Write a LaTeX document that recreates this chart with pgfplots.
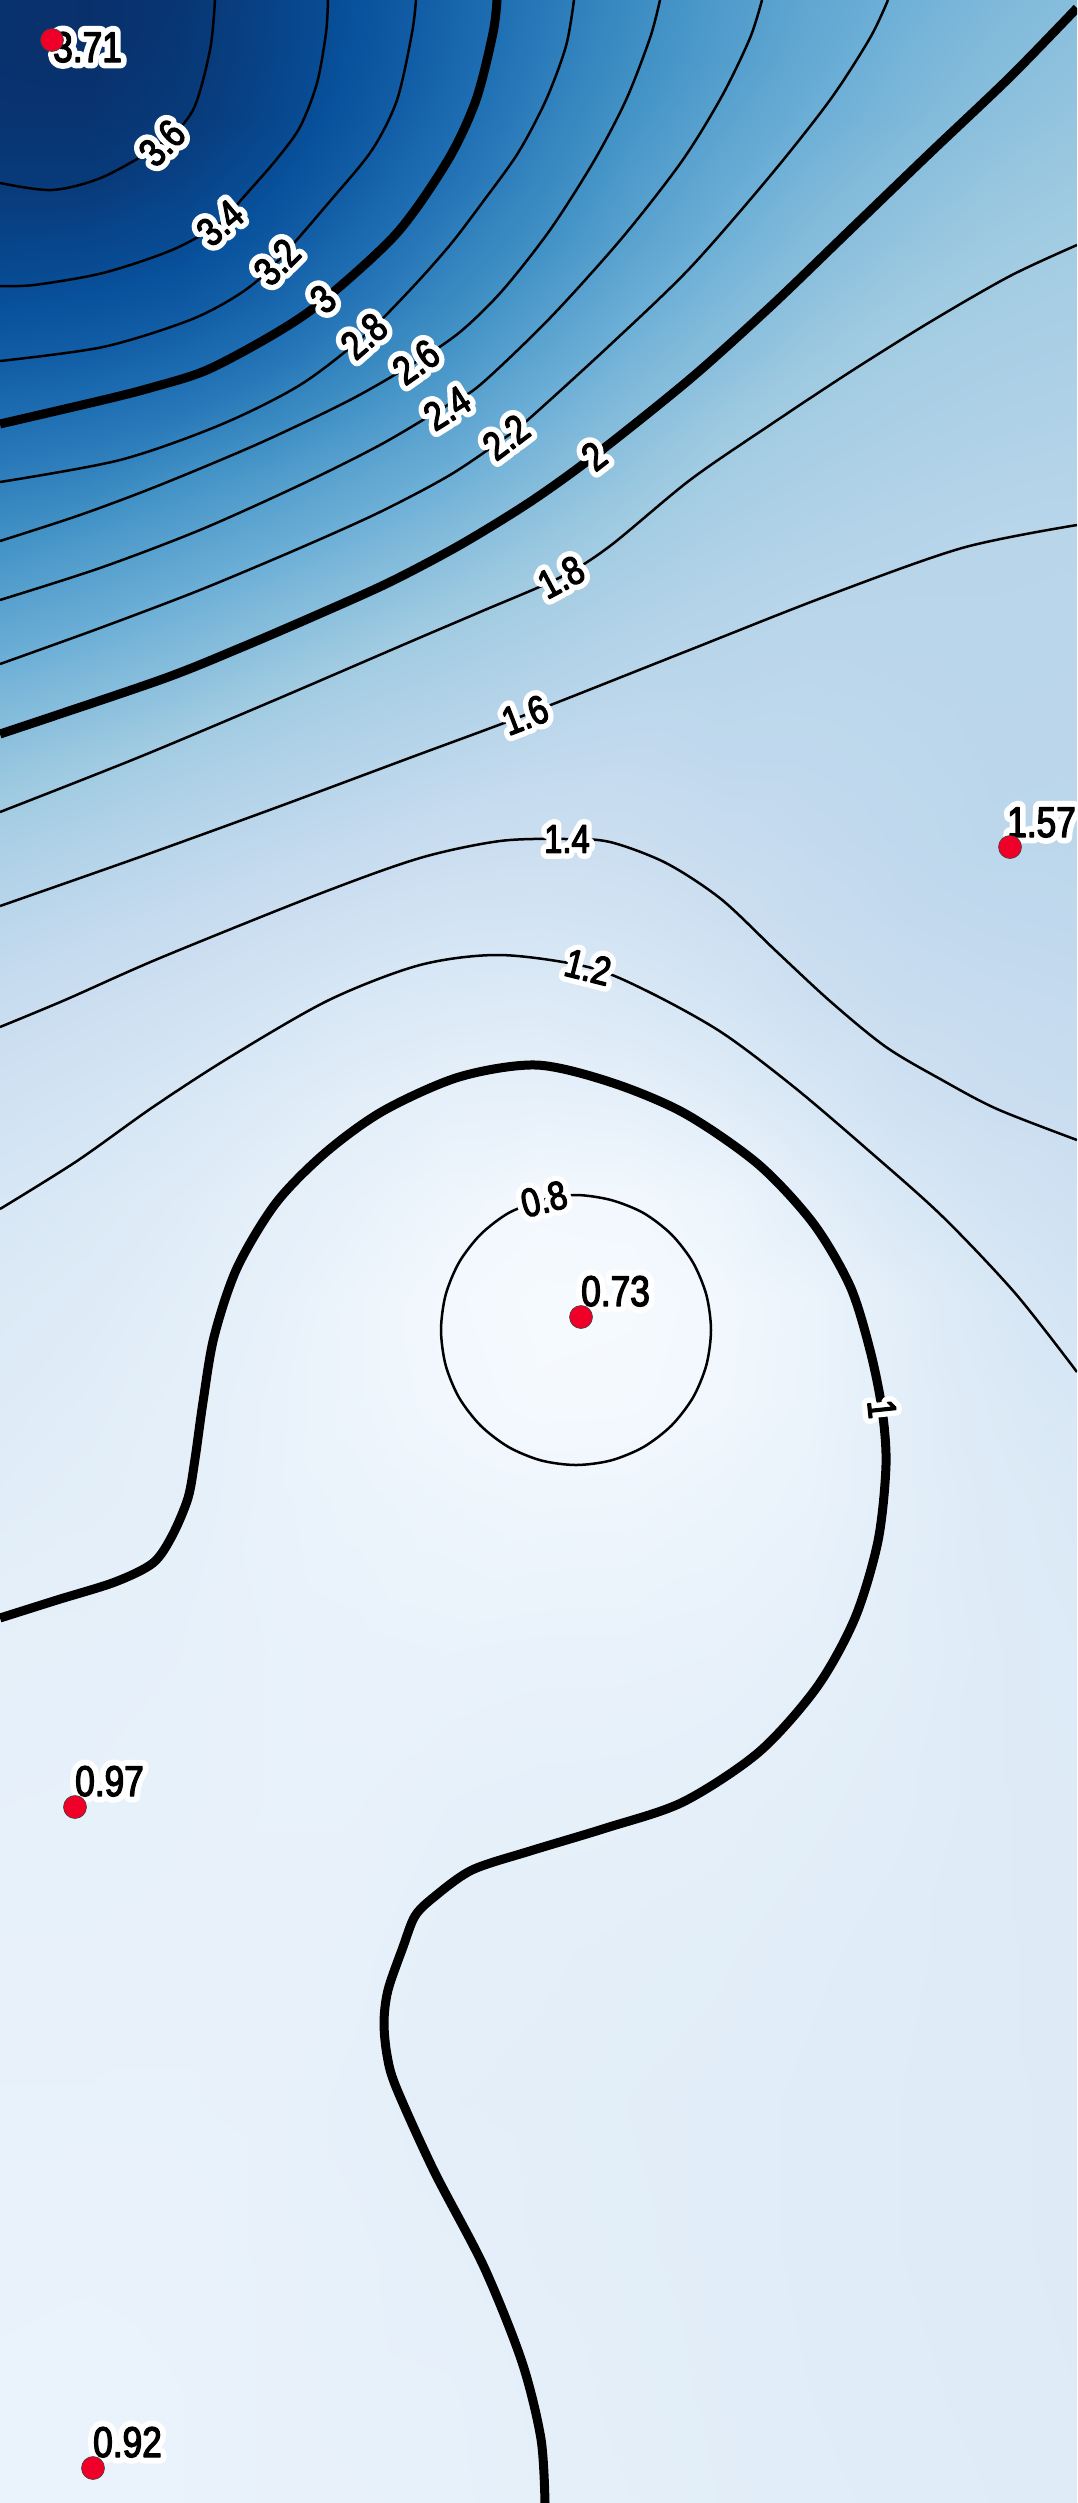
\documentclass[border=0pt]{standalone}
\usepackage{fontspec}
\newfontfamily\labfont[FakeStretch=0.82, FakeBold=3]{Liberation Sans}
\newfontfamily\halofont[FakeStretch=0.82, FakeBold=30]{Liberation Sans}
\usepackage{pgfplots}
\pgfplotsset{compat=1.18}
\definecolor{ptred}{RGB}{240,0,40}
\newcommand\halo[1]{\leavevmode\rlap{\halofont\textcolor{white}{#1}}#1}
\pgfplotsset{base/.style={scale only axis, width=1077pt, height=2503pt,
  xmin=0, xmax=1077, ymin=0, ymax=2503, y dir=reverse, hide axis,
  at={(0,0)}, anchor=south west},
  cthin/.style={black, line width=2.5pt, smooth, no marks},
  cthick/.style={black, line width=9pt, smooth, no marks}}
\tikzset{clab/.style={inner sep=0pt, line join=round, font={\labfont\fontsize{40pt}{44pt}\selectfont}},
  plab/.style={inner sep=0pt, line join=round, anchor=base west, font={\labfont\fontsize{43pt}{46pt}\selectfont}}}
\pgfplotstableread{
x y z
0 0 3.69
90 0 3.70
180 0 3.65
270 0 3.50
360 0 3.33
450 0 3.12
540 0 2.89
630 0 2.67
720 0 2.48
810 0 2.32
900 0 2.19
990 0 2.09
1077 0 2.01
0 60 3.69
90 60 3.70
180 60 3.63
270 60 3.49
360 60 3.31
450 60 3.10
540 60 2.85
630 60 2.63
720 60 2.45
810 60 2.28
900 60 2.14
990 60 2.04
1077 60 1.96
0 120 3.66
90 120 3.66
180 120 3.60
270 120 3.46
360 120 3.26
450 120 3.04
540 120 2.79
630 120 2.56
720 120 2.37
810 120 2.21
900 120 2.09
990 120 1.98
1077 120 1.91
0 180 3.60
90 180 3.60
180 180 3.51
270 180 3.37
360 180 3.17
450 180 2.95
540 180 2.71
630 180 2.47
720 180 2.28
810 180 2.12
900 180 2.00
990 180 1.91
1077 180 1.86
0 240 3.49
90 240 3.47
180 240 3.41
270 240 3.26
360 240 3.05
450 240 2.81
540 240 2.61
630 240 2.38
720 240 2.19
810 240 2.04
900 240 1.93
990 240 1.85
1077 240 1.80
0 300 3.36
90 300 3.33
180 300 3.26
270 300 3.11
360 300 2.91
450 300 2.68
540 300 2.47
630 300 2.25
720 300 2.09
810 300 1.95
900 300 1.85
990 300 1.79
1077 300 1.76
0 360 3.20
90 360 3.16
180 360 3.07
270 360 2.93
360 360 2.72
450 360 2.54
540 360 2.32
630 360 2.13
720 360 1.99
810 360 1.86
900 360 1.78
990 360 1.74
1077 360 1.72
0 420 3.01
90 420 2.95
180 420 2.86
270 420 2.70
360 420 2.52
450 420 2.36
540 420 2.17
630 420 2.01
720 420 1.87
810 420 1.78
900 420 1.73
990 420 1.70
1077 420 1.68
0 480 2.81
90 480 2.74
180 480 2.59
270 480 2.46
360 480 2.32
450 480 2.19
540 480 2.04
630 480 1.90
720 480 1.78
810 480 1.72
900 480 1.68
990 480 1.65
1077 480 1.63
0 540 2.60
90 540 2.50
180 540 2.39
270 540 2.27
360 540 2.15
450 540 2.03
540 540 1.90
630 540 1.79
720 540 1.71
810 540 1.66
900 540 1.63
990 540 1.60
1077 540 1.60
0 600 2.40
90 600 2.31
180 600 2.20
270 600 2.09
360 600 1.98
450 600 1.87
540 600 1.78
630 600 1.70
720 600 1.64
810 600 1.60
900 600 1.595
990 600 1.595
1077 600 1.59
0 680 2.15
90 680 2.07
180 680 1.98
270 680 1.87
360 680 1.77
450 680 1.71
540 680 1.65
630 680 1.59
720 680 1.58
810 680 1.565
900 680 1.575
990 680 1.585
1077 680 1.58
0 760 1.93
90 760 1.85
180 760 1.76
270 760 1.69
360 760 1.63
450 760 1.57
540 760 1.52
630 760 1.50
720 760 1.53
810 760 1.535
900 760 1.555
990 760 1.578
1077 760 1.575
0 840 1.74
90 840 1.67
180 840 1.60
270 840 1.54
360 840 1.48
450 840 1.42
540 840 1.40
630 840 1.41
720 840 1.46
810 840 1.50
900 840 1.535
990 840 1.57
1077 840 1.568
0 920 1.58
90 920 1.52
180 920 1.46
270 920 1.39
360 920 1.33
450 920 1.28
540 920 1.27
630 920 1.30
720 920 1.37
810 920 1.45
900 920 1.50
990 920 1.525
1077 920 1.54
0 1000 1.445
90 1000 1.39
180 1000 1.33
270 1000 1.26
360 1000 1.18
450 1000 1.14
540 1000 1.12
630 1000 1.17
720 1000 1.25
810 1000 1.37
900 1000 1.44
990 1000 1.47
1077 1000 1.49
0 1100 1.32
90 1100 1.26
180 1100 1.19
270 1100 1.11
360 1100 1.035
450 1100 0.98
540 1100 0.97
630 1100 0.99
720 1100 1.07
810 1100 1.20
900 1100 1.33
990 1100 1.40
1077 1100 1.43
0 1200 1.205
90 1200 1.155
180 1200 1.09
270 1200 1.01
360 1200 0.95
450 1200 0.86
540 1200 0.80
630 1200 0.81
720 1200 0.875
810 1200 1.03
900 1200 1.18
990 1200 1.28
1077 1200 1.35
0 1300 1.14
90 1300 1.10
180 1300 1.04
270 1300 0.97
360 1300 0.875
450 1300 0.795
540 1300 0.755
630 1300 0.76
720 1300 0.81
810 1300 0.90
900 1300 1.04
990 1300 1.17
1077 1300 1.26
0 1400 1.10
90 1400 1.06
180 1400 1.01
270 1400 0.945
360 1400 0.875
450 1400 0.81
540 1400 0.77
630 1400 0.775
720 1400 0.825
810 1400 0.905
900 1400 1.03
990 1400 1.13
1077 1400 1.19
0 1500 1.06
90 1500 1.03
180 1500 1.003
270 1500 0.94
360 1500 0.905
450 1500 0.87
540 1500 0.85
630 1500 0.855
720 1500 0.89
810 1500 0.93
900 1500 1.03
990 1500 1.105
1077 1500 1.15
0 1650 0.99
90 1650 0.985
180 1650 0.975
270 1650 0.95
360 1650 0.94
450 1650 0.93
540 1650 0.94
630 1650 0.94
720 1650 0.95
810 1650 0.985
900 1650 1.04
990 1650 1.09
1077 1650 1.125
0 1800 0.975
90 1800 0.972
180 1800 0.965
270 1800 0.95
360 1800 0.95
450 1800 0.975
540 1800 0.985
630 1800 0.99
720 1800 1.007
810 1800 1.035
900 1800 1.06
990 1800 1.09
1077 1800 1.11
0 1950 0.96
90 1950 0.96
180 1950 0.955
270 1950 0.955
360 1950 0.965
450 1950 1.015
540 1950 1.015
630 1950 1.03
720 1950 1.04
810 1950 1.06
900 1950 1.075
990 1950 1.09
1077 1950 1.105
0 2100 0.95
90 2100 0.95
180 2100 0.95
270 2100 0.955
360 2100 0.985
450 2100 1.02
540 2100 1.03
630 2100 1.045
720 2100 1.055
810 2100 1.07
900 2100 1.08
990 2100 1.09
1077 2100 1.10
0 2250 0.94
90 2250 0.935
180 2250 0.94
270 2250 0.955
360 2250 0.97
450 2250 0.995
540 2250 1.025
630 2250 1.04
720 2250 1.055
810 2250 1.07
900 2250 1.08
990 2250 1.09
1077 2250 1.10
0 2400 0.925
90 2400 0.922
180 2400 0.93
270 2400 0.955
360 2400 0.965
450 2400 0.97
540 2400 1.005
630 2400 1.03
720 2400 1.05
810 2400 1.065
900 2400 1.075
990 2400 1.085
1077 2400 1.095
0 2503 0.92
90 2503 0.925
180 2503 0.93
270 2503 0.955
360 2503 0.96
450 2503 0.965
540 2503 0.998
630 2503 1.02
720 2503 1.045
810 2503 1.06
900 2503 1.07
990 2503 1.08
1077 2503 1.09
}\field
\begin{document}
\begin{tikzpicture}
\begin{axis}[base, view={0}{90},
  colormap={blues}{rgb255=(247,251,255) rgb255=(222,235,247) rgb255=(198,219,239) rgb255=(158,202,225) rgb255=(107,174,214) rgb255=(66,146,198) rgb255=(33,113,181) rgb255=(8,81,156) rgb255=(8,48,107)},
  point meta min=0.73, point meta max=3.71]
\addplot3[surf, shader=interp, mesh/cols=13] table[x=x, y=y, z=z] {\field};
\end{axis}
\begin{axis}[base]
\addplot[cthin] coordinates {(215,0) (210,50) (193,110) (162,143) (103,177) (52,190) (0,183)};
\addplot[cthin] coordinates {(328,0) (326,33) (317,83) (300,127) (276,160) (241,200) (221,223) (172,250) (103,273) (34,285) (0,286)};
\addplot[cthin] coordinates {(416,0) (412,33) (397,100) (372,150) (331,200) (276,263) (241,293) (190,320) (103,347) (0,361)};
\addplot[cthick] coordinates {(497,0) (493,33) (476,100) (448,160) (397,233) (324,300) (276,333) (207,370) (150,388) (103,400) (0,424)};
\addplot[cthin] coordinates {(574,0) (566,46) (546,100) (518,153) (482,203) (450,245) (410,290) (364,336) (300,385) (220,425) (120,460) (0,482)};
\addplot[cthin] coordinates {(660,0) (650,38) (626,100) (594,161) (550,230) (502,291) (460,332) (416,362) (350,400) (260,443) (160,485) (80,515) (0,541)};
\addplot[cthin] coordinates {(762,0) (750,38) (722,96) (682,161) (622,238) (550,318) (480,385) (446,406) (380,445) (300,485) (200,530) (100,568) (0,600)};
\addplot[cthin] coordinates {(888,0) (870,38) (830,100) (770,176) (690,268) (610,345) (530,418) (506,437) (450,475) (380,512) (300,548) (200,590) (100,628) (0,664)};
\addplot[cthick] coordinates {(1077,8) (1010,77) (930,153) (850,230) (770,307) (690,379) (594,456) (530,502) (460,545) (390,582) (319,614) (240,648) (160,680) (0,734)};
\addplot[cthin] coordinates {(1077,245) (1010,276) (930,322) (850,372) (770,425) (690,480) (610,546) (561,577) (480,612) (412,641) (275,700) (137,758) (0,812)};
\addplot[cthin] coordinates {(1077,525) (962,548) (824,597) (687,651) (525,715) (412,757) (275,808) (137,858) (0,906)};
\addplot[cthin] coordinates {(0,1027) (65,1000) (160,958) (319,894) (420,858) (500,841) (566,839) (610,842) (666,863) (721,899) (776,951) (831,1002) (886,1047) (942,1080) (997,1109) (1077,1140)};
\addplot[cthin] coordinates {(0,1209) (77,1161) (153,1107) (230,1057) (329,1000) (420,965) (500,955) (588,967) (647,991) (721,1032) (794,1087) (868,1150) (942,1216) (1015,1293) (1077,1372)};
\addplot[cthick] coordinates {(0,1618) (57,1600) (115,1582) (153,1563) (172,1536) (188,1498) (195,1459) (203,1402) (214,1337) (237,1268) (276,1203) (325,1153) (383,1111) (459,1077) (536,1065) (610,1082) (684,1113) (758,1164) (813,1223) (850,1286) (870,1350) (882,1409) (886,1465) (878,1541) (855,1618) (817,1687) (759,1752) (683,1802) (606,1828) (530,1851) (472,1870) (434,1897) (415,1916) (403,1947) (388,1990) (384,2022) (387,2055) (396,2087) (434,2171) (484,2267) (522,2362) (541,2439) (545,2503)};
\addplot[cthin] coordinates {(541,1200) (576,1195) (611,1200) (643.5,1213) (671.5,1234.5) (693,1262.5) (706.4,1295) (711,1330) (706.4,1365) (693,1397.5) (671.5,1425.5) (643.5,1447) (611,1460.4) (576,1465) (541,1460.4) (508.5,1447) (480.5,1425.5) (459,1397.5) (445.6,1365) (441,1330) (445.6,1295) (459,1262.5) (480.5,1234.5) (508.5,1213) (541,1200)};
\addplot[only marks, mark=*, mark size=11.5pt, mark options={fill=ptred, draw=black!75, line width=0.6pt}] coordinates {(52,40) (1010,847) (581,1317) (75,1807) (93,2468)};
\node[clab, rotate=45] at (axis cs:162,143) {\halo{3.6}};
\node[clab, rotate=40] at (axis cs:220,223) {\halo{3.4}};
\node[clab, rotate=45] at (axis cs:277,262) {\halo{3.2}};
\node[clab, rotate=40] at (axis cs:323,299) {\halo{3}};
\node[clab, rotate=41] at (axis cs:364,336) {\halo{2.8}};
\node[clab, rotate=35] at (axis cs:416,362) {\halo{2.6}};
\node[clab, rotate=32] at (axis cs:447,408) {\halo{2.4}};
\node[clab, rotate=37] at (axis cs:506,437) {\halo{2.2}};
\node[clab, rotate=38] at (axis cs:594,456) {\halo{2}};
\node[clab, rotate=28] at (axis cs:561,577) {\halo{1.8}};
\node[clab, rotate=21] at (axis cs:525,715) {\halo{1.6}};
\node[clab, rotate=0] at (axis cs:567,839) {\halo{1.4}};
\node[clab, rotate=-14] at (axis cs:588,967) {\halo{1.2}};
\node[clab, rotate=14] at (axis cs:544,1199) {\halo{0.8}};
\node[clab, rotate=-84] at (axis cs:882,1409) {\halo{1}};
\node[plab] at (axis cs:53,62) {\halo{3.71}};
\node[plab] at (axis cs:1007,837) {\halo{1.57}};
\node[plab] at (axis cs:581,1306) {\halo{0.73}};
\node[plab] at (axis cs:75,1796) {\halo{0.97}};
\node[plab] at (axis cs:93,2457) {\halo{0.92}};
\end{axis}
\pgfresetboundingbox
\useasboundingbox (0,0) rectangle (1077pt,2503pt);
\end{tikzpicture}
\end{document}
